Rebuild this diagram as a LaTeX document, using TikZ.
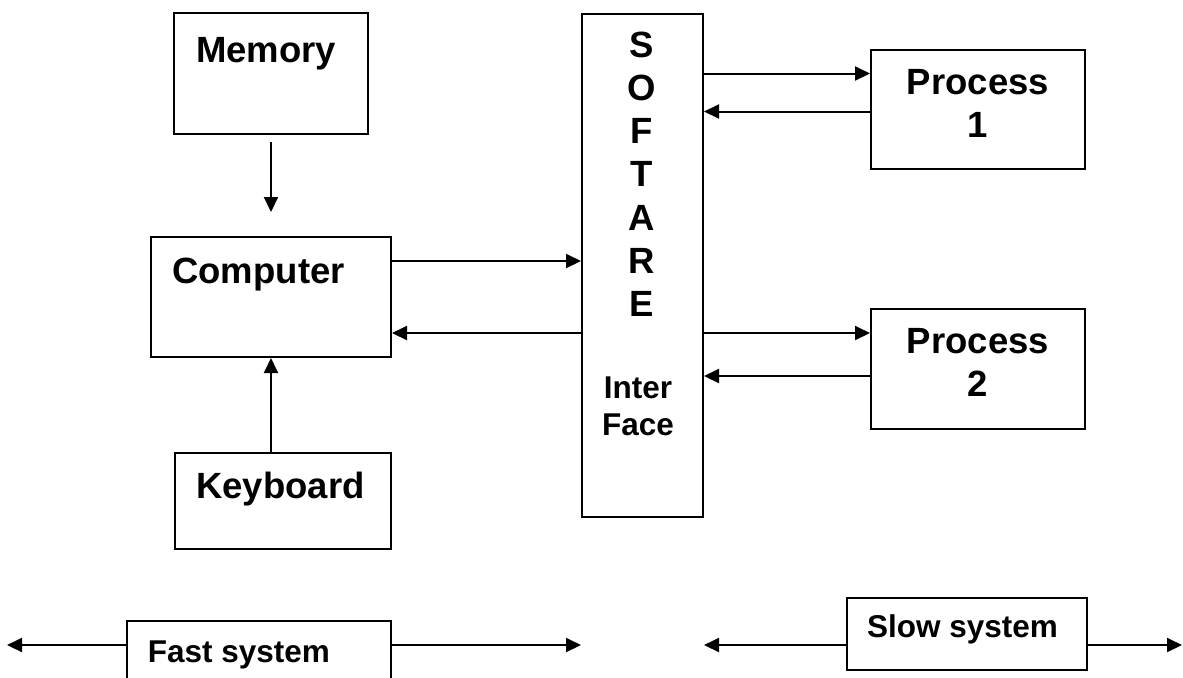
\documentclass[tikz,border=0pt]{standalone}
\usepackage{fontspec}
\setmainfont{Liberation Sans}
\usetikzlibrary{positioning}
\usetikzlibrary{arrows.meta}

\begin{document}
\begin{tikzpicture}[x=0.5pt, y=-0.5pt,
		blk/.style={draw, line width=1pt, inner sep=0pt},
		big/.style={font=\fontsize{18.25}{21.5}\selectfont\bfseries, align=center, inner sep=0pt},
		sml/.style={font=\fontsize{15.75}{18.5}\selectfont\bfseries, align=center, inner sep=0pt},
		arr/.style={line width=1pt, -{Triangle[length=7.5pt, width=7pt]}}]
				\useasboundingbox (0,0) rectangle (1183,677);
				
				% boxes
				\node[blk, minimum width=97pt, minimum height=60.5pt] (mem) at (271,73.5) {};
				\node[blk, minimum width=120pt, minimum height=60pt] (comp) at (271,297) {};
				\node[blk, minimum width=108pt, minimum height=48pt] (kbd) at (283,501) {};
				\node[blk, minimum width=60.5pt, minimum height=251.5pt] (soft) at (642.5,265.5) {};
				\node[blk, minimum width=107pt, minimum height=59.5pt] (p1) at (978,109.5) {};
				\node[blk, minimum width=107pt, minimum height=60pt] (p2) at (978,369) {};
				\node[blk, minimum width=132pt, minimum height=49.5pt] (fast) at (259,670.5) {};
				\node[blk, minimum width=120pt, minimum height=36pt] (slow) at (967,634) {};
				
				% box texts
				\node[big, anchor=base] (memtxt) at (266,62) {Memory};
				\node[big, anchor=base] (comptxt) at (258.5,283) {Computer};
				\node[big, anchor=base] (kbdtxt) at (280.5,498) {Keyboard};
				\node[big] (p1txt) at (978,103) {Process\\1};
				\node[big] (p2txt) at (978,362) {Process\\2};
				\foreach \l [count=\i from 0] in {S,O,F,T,A,R,E}
					\node[big, anchor=base] (soft-\i) at (642,57+43.3*\i) {\l};
				\node[sml] (ifacetxt) at (638,406.5) {Inter\\Face};
				\node[sml, anchor=base] (fasttxt) at (239,662) {Fast system};
				\node[sml, anchor=base] (slowtxt) at (962.5,637) {Slow system};
				
				% free arrow ends
				\coordinate (memtip) at (271,212);
				\coordinate (fastL) at (7,645);
				\coordinate (slowR) at (1182,645);
				
				\draw[arr, shorten <=3.5pt] (mem.south) -- (memtip);
				\draw[arr] (kbd.north -| comp.south) -- (comp.south);
				\draw[arr] ([yshift=18pt]comp.east) -- ([yshift=18pt]comp.east -| soft.west);
				\draw[arr] ([yshift=-18pt]comp.east -| soft.west) -- ([yshift=-18pt]comp.east);
				\draw[arr] ([yshift=18pt]p1.west -| soft.east) -- ([yshift=18pt]p1.west);
				\draw[arr] ([yshift=-1pt]p1.west) -- ([yshift=-1pt]p1.west -| soft.east);
				\draw[arr] ([yshift=18pt]p2.west -| soft.east) -- ([yshift=18pt]p2.west);
				\draw[arr] ([yshift=-3.5pt]p2.west) -- ([yshift=-3.5pt]p2.west -| soft.east);
				\draw[arr] (fastL -| fast.west) -- (fastL);
				\draw[arr] (fastL -| fast.east) -- (fastL -| soft.west);
				\draw[arr] (slowR -| slow.west) -- (slowR -| soft.east);
				\draw[arr] (slowR -| slow.east) -- (slowR);
			\end{tikzpicture}
\end{document}
